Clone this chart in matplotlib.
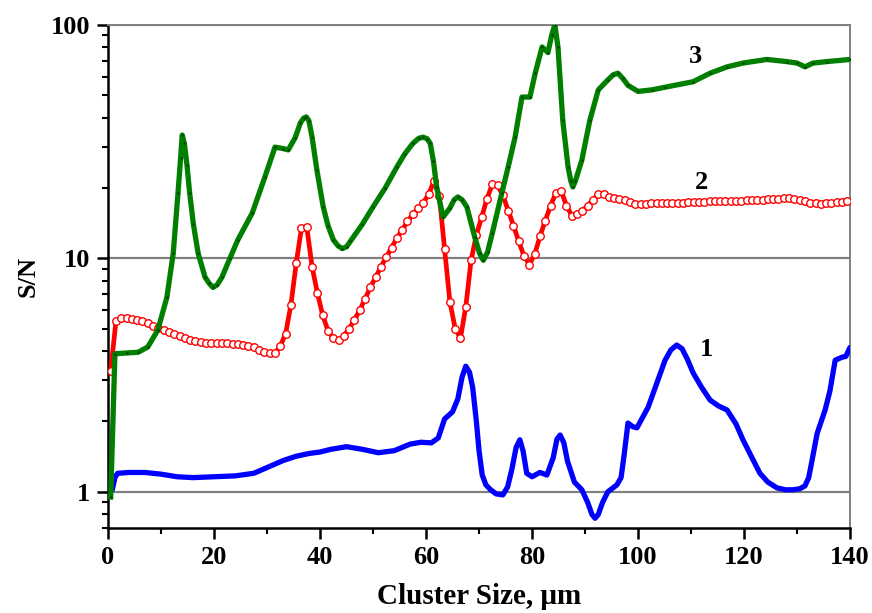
import numpy as np
import matplotlib
matplotlib.use("Agg")
import matplotlib.pyplot as plt
from matplotlib.ticker import LogLocator, NullFormatter, FixedLocator, FixedFormatter, MultipleLocator

plt.rcParams['font.family'] = ['Liberation Serif', 'DejaVu Serif']
plt.rcParams['font.weight'] = 'bold'

# Curve 1 (blue)
x1 = [0.8, 1.3, 1.8, 4, 7, 10, 13, 16, 20, 24, 27.5, 30, 33, 35.5, 38, 40, 42, 45, 48,
      51, 54, 57, 59, 61, 62.3, 63.5, 65, 66, 66.8, 67.5, 68.2, 68.8, 69.5, 70, 70.6,
      71.3, 72.2, 73.2, 74.5, 75.4, 76.2, 77, 77.7, 78.3, 79, 80, 81.5, 82.8, 84, 84.7,
      85.3, 86, 86.7, 88, 89.4, 90.5, 91.3, 91.9, 92.5, 93.3, 94.3, 96, 96.8, 97.4, 98.1,
      99, 99.8, 101.9, 103.5, 105.1, 106.2, 107.3, 108.3, 109.3, 110.4, 112, 113.6,
      115.2, 116.8, 118.5, 119.8, 121.5, 123, 124.5, 126.2, 127.8, 129.2, 130.5, 131.5,
      132.2, 132.8, 133.8, 135.3, 136.2, 137.2, 138.5, 139.2, 140]
y1 = [1.02, 1.15, 1.2, 1.21, 1.21, 1.19, 1.16, 1.15, 1.16, 1.17, 1.2, 1.27, 1.36, 1.42,
      1.46, 1.48, 1.52, 1.56, 1.52, 1.47, 1.5, 1.6, 1.63, 1.62, 1.7, 2.05, 2.2, 2.5, 3.1,
      3.45, 3.25, 2.8, 2.0, 1.5, 1.18, 1.07, 1.02, 0.98, 0.97, 1.05, 1.25, 1.55, 1.67,
      1.5, 1.2, 1.16, 1.21, 1.18, 1.4, 1.68, 1.75, 1.62, 1.35, 1.1, 1.02, 0.9, 0.8, 0.77,
      0.8, 0.9, 1.0, 1.07, 1.15, 1.45, 1.97, 1.9, 1.88, 2.3, 2.9, 3.66, 4.05, 4.25, 4.1,
      3.7, 3.23, 2.8, 2.47, 2.33, 2.24, 1.95, 1.67, 1.4, 1.2, 1.1, 1.04, 1.02, 1.02, 1.03,
      1.06, 1.15, 1.35, 1.78, 2.24, 2.7, 3.66, 3.77, 3.8, 4.15]

# Curve 2 (red, open circles)
x2 = list(np.arange(0.5, 140.0, 1.0))
y2 = [3.3, 5.4, 5.55, 5.55, 5.5, 5.45, 5.38, 5.28, 5.12, 5.02,
      4.93, 4.83, 4.73, 4.64, 4.55, 4.47, 4.41, 4.36, 4.33, 4.32,
      4.32, 4.33, 4.32, 4.31, 4.29, 4.26, 4.21, 4.15, 4.06, 3.97,
      3.91, 3.92, 4.2, 4.75, 6.3, 9.5, 13.5, 13.6, 9.2, 7.1,
      5.7, 4.9, 4.55, 4.45, 4.65, 5.0, 5.45, 6.0, 6.7, 7.5,
      8.3, 9.2, 10.1, 11.1, 12.2, 13.2, 14.4, 15.4, 16.4, 17.3,
      18.8, 21.4, 18.5, 11.0, 6.5, 5.0, 4.55, 6.2, 9.8, 12.6,
      15.0, 18.0, 20.7, 20.5, 18.6, 16.0, 13.8, 11.8, 10.2, 9.4,
      10.4, 12.4, 14.5, 16.8, 19.0, 19.4, 16.8, 15.2, 15.4, 16.0,
      16.8, 17.8, 18.8, 18.8, 18.3, 18.1, 17.9, 17.7, 17.4, 17.1,
      17.1, 17.1, 17.2, 17.2, 17.2, 17.3, 17.3, 17.3, 17.3, 17.4,
      17.4, 17.4, 17.4, 17.5, 17.5, 17.5, 17.5, 17.6, 17.6, 17.6,
      17.7, 17.7, 17.8, 17.8, 17.9, 17.9, 18.0, 18.1, 18.1, 18.0,
      17.8, 17.5, 17.3, 17.2, 17.1, 17.2, 17.3, 17.4, 17.4, 17.5]

# Curve 3 (green)
x3 = [0.5, 1.3, 3.5, 5.7, 7.5, 9.4, 11.1, 12.3, 13.2, 13.7, 14.0, 14.4, 14.9, 15.4,
      16.1, 17, 18.3, 19.1, 19.8, 20.6, 21.5, 23, 24.5, 27.2, 29.6, 31.5, 33, 34, 35.3,
      36.3, 36.9, 37.4, 37.9, 38.5, 39.4, 40.6, 41.5, 42.5, 43.4, 44.2, 45.0, 45.7, 48,
      50, 52.3, 54.5, 56, 57.5, 58.6, 59.4, 60.2, 60.8, 61.4, 62, 63.2, 64.5, 65.3, 66,
      66.8, 67.7, 69.2, 70.1, 70.8, 71.6, 72.5, 74.3, 75.5, 76.8, 78.1, 79.6, 80.6, 81.9,
      83, 83.7, 84.3, 84.9, 85.8, 86.8, 87.3, 87.7, 88.2, 89.4, 90.9, 92.5, 94.3, 95.3,
      96.2, 97.1, 98.1, 100, 102.6, 105.1, 110.4, 113.6, 116.8, 119.8, 124.3, 128.1, 130,
      131.5, 133, 135.6, 140]
y3 = [0.95, 3.9, 3.93, 3.96, 4.17, 4.93, 6.8, 10.5, 19.0, 27, 33.7, 31, 25, 19, 14, 10.5,
      8.3, 7.8, 7.5, 7.7, 8.3, 10, 12.0, 15.6, 22.3, 29.9, 29.5, 29.1, 32.8, 38, 39.8,
      40.3, 38.8, 33, 23.9, 16.6, 13.8, 12.0, 11.3, 11.0, 11.2, 11.8, 14, 16.6, 20, 24.6,
      28, 31, 32.6, 33, 32.5, 31, 26, 20.2, 15.0, 16.4, 17.8, 18.3, 17.8, 16.6, 12.3,
      10.5, 9.8, 10.6, 12.8, 19, 24.6, 33, 49, 49, 62, 80.3, 76, 90, 100, 80, 38.9, 24.6,
      21.5, 20.2, 21.5, 26.3, 38.9, 52.6, 58, 61, 62, 59, 55, 51.8, 52.6, 54, 57, 62, 66,
      68.5, 71, 69.5, 68.5, 66, 68.5, 69.5, 71]

curve_labels = ['1', '2', '3']
label_x = [113, 112, 110.8]
label_y = [4.05, 21.0, 72.8]

fig = plt.figure(figsize=(8.72, 6.13), dpi=100)
ax = fig.add_axes([0.1239, 0.1387, 0.8509, 0.821])

ax.set_yscale('log')
ax.set_xlim(0, 140)
ax.set_ylim(0.7, 100)

for yv in (1, 10, 100):
    ax.axhline(yv, color='#808080', lw=1.6, zorder=1)

ax.plot(x1, y1, color='#0000ff', lw=3.8, solid_capstyle='round',
        solid_joinstyle='round', zorder=3)
ax.plot(x2, y2, color='#ff0000', lw=3.4, solid_joinstyle='round', marker='o',
        markersize=5.4, markerfacecolor='white', markeredgecolor='#ff0000',
        markeredgewidth=1.0, zorder=4)
ax.plot(x3, y3, color='#007f00', lw=3.8, solid_joinstyle='round', marker='.',
        markersize=1.2, markeredgecolor='#003000', markerfacecolor='#003000', zorder=5)

for t, tx, ty in zip(curve_labels, label_x, label_y):
    ax.text(tx, ty, t, fontsize=19, fontweight='bold', ha='center', va='center', zorder=6)

# spines
ax.spines['left'].set_color('black')
ax.spines['bottom'].set_color('black')
ax.spines['left'].set_linewidth(1.8)
ax.spines['bottom'].set_linewidth(1.8)
ax.spines['top'].set_color('#808080')
ax.spines['right'].set_color('#808080')
ax.spines['top'].set_linewidth(1.4)
ax.spines['right'].set_linewidth(1.4)

# ticks
ax.xaxis.set_major_locator(MultipleLocator(20))
ax.xaxis.set_minor_locator(MultipleLocator(10))
ax.yaxis.set_major_locator(FixedLocator([1, 10, 100]))
ax.yaxis.set_major_formatter(FixedFormatter(['1', '10', '100']))
ax.yaxis.set_minor_locator(LogLocator(base=10, subs=np.arange(2, 10)))
ax.yaxis.set_minor_formatter(NullFormatter())
ax.tick_params(axis='both', which='major', direction='out', width=1.8, length=8,
               labelsize=19, pad=5)
ax.tick_params(axis='both', which='minor', direction='out', width=1.5, length=4.5)
ax.tick_params(top=False, right=False, which='both')
for lab in ax.get_xticklabels() + ax.get_yticklabels():
    lab.set_fontweight('bold')

ax.set_xlabel('Cluster Size, \u03bcm', fontsize=21, fontweight='bold', labelpad=10)
ax.set_ylabel('S/N', fontsize=19, fontweight='bold', labelpad=8)

fig.savefig('out.png', dpi=100)
